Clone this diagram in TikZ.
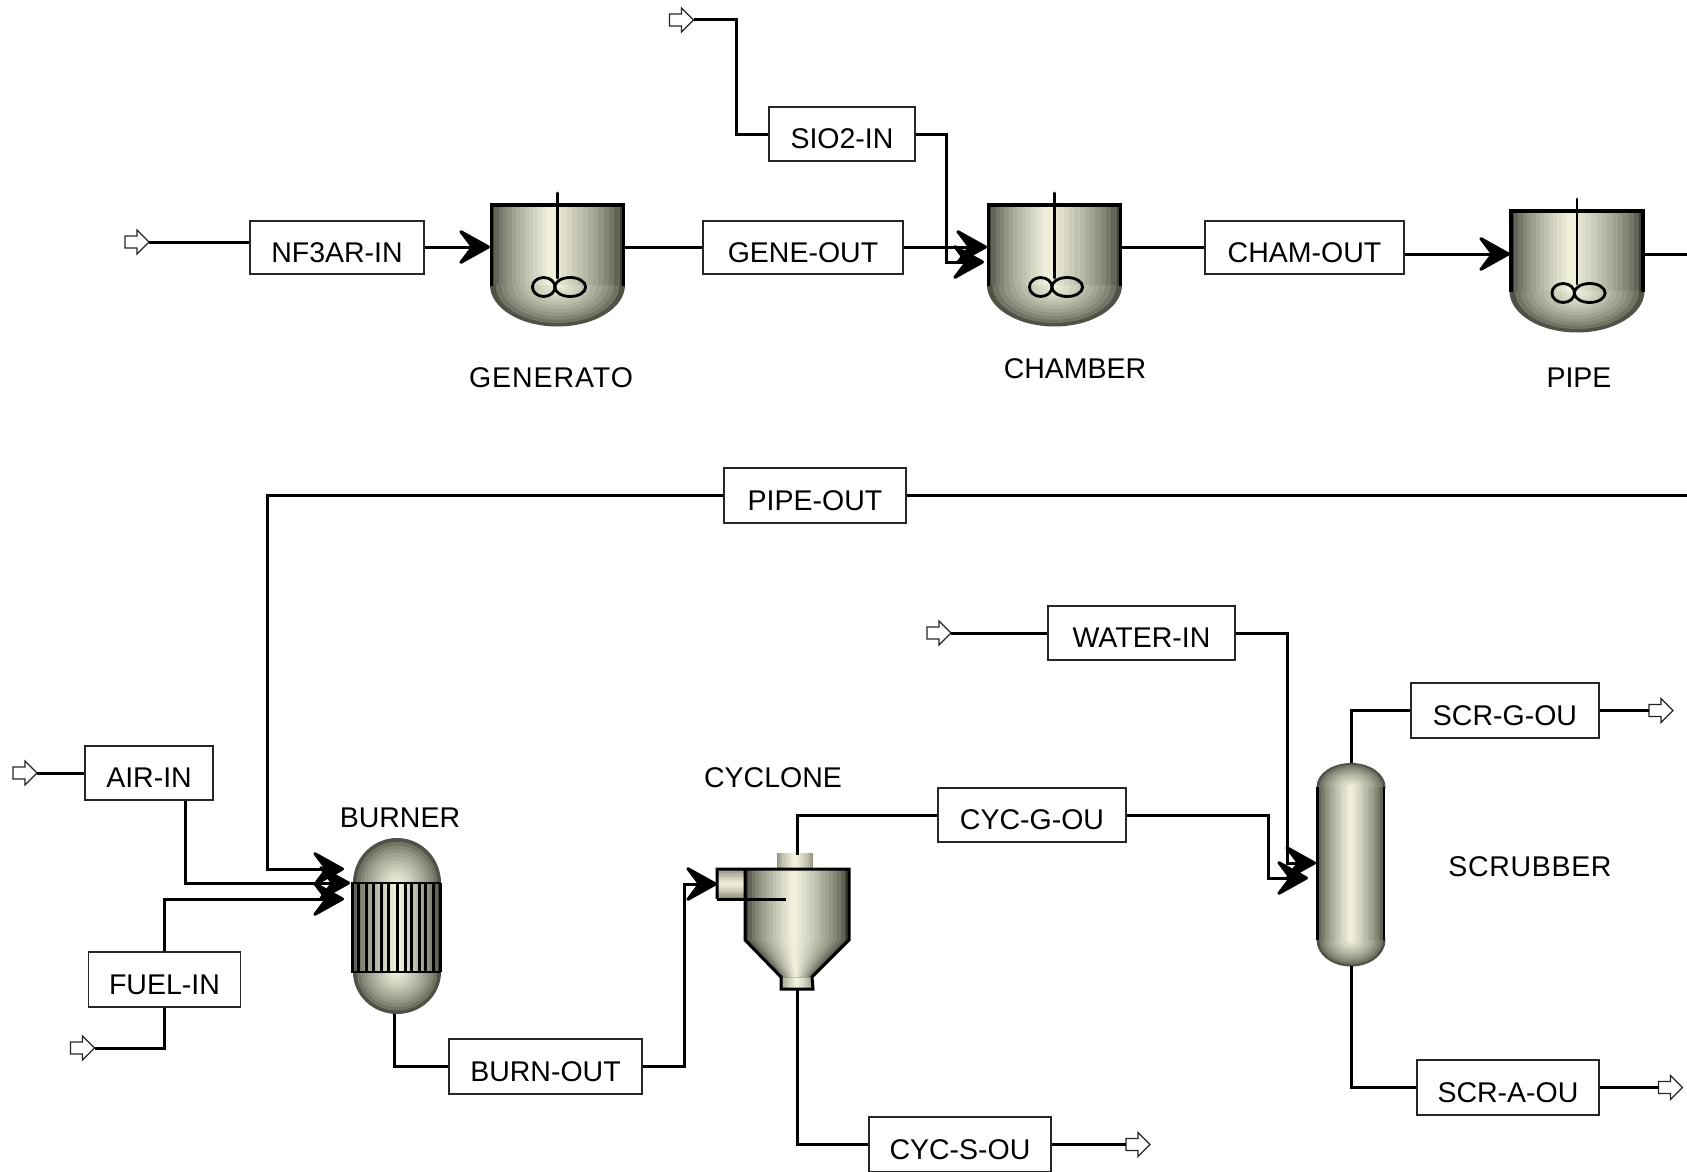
\documentclass[tikz,border=0pt]{standalone}
\usepackage{fontspec}
\setmainfont{Liberation Sans}
\usetikzlibrary{arrows.meta,calc}
\definecolor{lite}{HTML}{F7F7E2}
\definecolor{edgeA}{HTML}{3F4035}
\definecolor{edgeB}{HTML}{8F8F7C}
\colorlet{edgec}{edgeA}
% stepped axial shading; x1t x2t x1b x2b yt yb centre-fraction
\newcommand\bandfill[7]{%
  \foreach \i in {0,...,13}{%
    \pgfmathsetmacro\t{\i/14}%
    \pgfmathsetmacro\p{100*pow(\t,0.62)}%
    \pgfmathsetmacro\ct{#1+(#2-#1)*#7}%
    \pgfmathsetmacro\cb{#3+(#4-#3)*#7}%
    \fill[lite!\p!edgec] ({#1+(\ct-#1)*\t},#5) -- ({#2-(#2-\ct)*\t},#5)
       -- ({#4-(#4-\cb)*\t},#6) -- ({#3+(\cb-#3)*\t},#6) -- cycle;
  }}
% horizontal-banded rectangle; x1 x2 y1 y2
\newcommand\hbandfill[4]{%
  \foreach \i in {0,...,7}{%
    \pgfmathsetmacro\t{\i/8}%
    \pgfmathsetmacro\p{100*pow(\t,0.8)}%
    \pgfmathsetmacro\cy{(#3+#4)/2}%
    \fill[lite!\p!edgeB] (#1,{#3+(\cy-#3)*\t}) rectangle (#2,{#4-(#4-\cy)*\t});
  }}
% concentric elliptical rings; cx cy rx ry, clip y1 y2
\newcommand\ringfill[6]{%
  \begin{scope}
    \clip ({#1-#3-1},#5) rectangle ({#1+#3+1},#6);
    \foreach \i in {0,...,11}{%
      \pgfmathsetmacro\t{\i/12}%
      \pgfmathsetmacro\p{10+90*pow(\t,0.65)}%
      \pgfmathsetmacro\rx{#3*(1-\t)}%
      \pgfmathsetmacro\ry{#4*(1-\t)}%
      \fill[lite!\p!edgec] (#1,#2) ellipse [x radius=\rx pt, y radius=\ry pt];
    }
  \end{scope}}
% stirred tank drawn at the GENERATO position, shifted
\newcommand\tankat[2]{%
  \begin{scope}[shift={(#1,#2)}]
    \ringfill{557.5}{285}{67.5}{41.5}{285}{327}
    \bandfill{490}{625}{490}{625}{205}{285}{0.45}
    \draw[line width=3.4pt,line join=miter] (491.6,286)--(491.6,205)--(623.4,205)--(623.4,286);
    \draw[line width=2.8pt,line cap=round] (557.5,193)--(557.5,278);
    \draw[line width=2.8pt] (543.7,287) ellipse [x radius=11.3pt, y radius=9.5pt];
    \draw[line width=2.8pt] (570.2,287) ellipse [x radius=15.4pt, y radius=9.5pt];
  \end{scope}}
% box text sits a little below the middle of its box
\newcommand\lowtext[1]{\raisebox{-14.5pt}[0pt][0pt]{#1}}
% open stream arrow: name, left x, middle y; gives (name-tail) and (name-tip)
\newcommand\openarrow[3]{%
  \coordinate (#1-tail) at (#2,#3);
  \coordinate (#1-tip) at ({#2+24},#3);
  \draw[openhead] (#1-tail) ++(0,-6) -- ++(12,0) -- ++(0,-6) -- (#1-tip)
     -- ({#2+12},{#3+12}) -- ++(0,-6) -- ({#2},{#3+6}) -- cycle;
}
\tikzset{
  conn/.style={line width=3pt,line join=miter},
  flow/.style={conn,-{Stealth[length=36pt,width=40pt,inset=15pt,round]}},
  lbl/.style={draw=black!85,fill=white,line width=1.1pt,inner sep=0pt,font=\fontsize{28.5}{30}\selectfont},
  blockname/.style={inner sep=0pt,font=\fontsize{28.5}{30}\selectfont},
  openhead/.style={draw=black!85,fill=white,line width=1.2pt,line join=miter},
}
\begin{document}
\begin{tikzpicture}[x=1pt,y=-1pt]
\useasboundingbox (0,0) rectangle (1687,1172);
\fill[white] (0,0) rectangle (1687,1172);
% ---- tanks
\tankat{0}{0}
\tankat{497}{0}
\tankat{1019.5}{6}
% ---- burner
\ringfill{397}{883}{44}{45}{836}{885}
\ringfill{397}{972}{44}{42}{970}{1016}
\bandfill{351}{441}{351}{441}{883}{972}{0.52}
\foreach \x in {352,358,366.7,373.3,381.7,388.3,397.3,405,411.7,419.3,425.5,433.3,440}{
  \draw[line width=3pt] (\x,883)--(\x,972);
}
\draw[line width=2.8pt] (351,883)--(441,883) (351,972)--(441,972);
% ---- cyclone
\hbandfill{717}{746}{869}{899}
\begin{scope}
\colorlet{edgec}{edgeB}
\bandfill{777}{813}{777}{813}{853}{869}{0.5}
\bandfill{781}{813}{781}{813}{977}{989}{0.5}
\end{scope}
\bandfill{745}{849}{745}{849}{869}{940}{0.47}
\bandfill{745}{849}{781}{812}{940}{977}{0.47}
\draw[line width=3pt,line join=miter]
  (717,899)--(717,869)--(849,869)--(849,940)--(812,977)--(813,989)--(781,989)--(781,977)--(745,940)--(745,869);
\draw[line width=3pt] (717,899)--(786,899);
% ---- scrubber
\ringfill{1351}{787}{34.5}{24}{762}{788}
\ringfill{1351}{940}{34.5}{26.5}{939}{968}
\bandfill{1316.5}{1385}{1316.5}{1385}{787}{940}{0.5}
\draw[line width=2.4pt] (1317.4,787)--(1317.4,940) (1384.2,787)--(1384.2,940);
% ---- ports
\coordinate (genIn)   at (490,247);
\coordinate (genOut)  at (625,247);
\coordinate (chaIn)   at (987,247);
\coordinate (chaInB)  at (984,262);
\coordinate (chaOut)  at (1122,247);
\coordinate (pipIn)   at (1510,254);
\coordinate (pipOut)  at (1645,254);
\coordinate (pipEdge) at (1687,254);
\coordinate (outEdge) at (1687,495.5);
\coordinate (burA)    at (344,869);
\coordinate (burB)    at (350,883);
\coordinate (burC)    at (344,899);
\coordinate (burOut)  at (394,1014);
\coordinate (cycIn)   at (717,884);
\coordinate (cycTop)  at (797,855);
\coordinate (cycBot)  at (797,989);
\coordinate (scrA)    at (1316,863);
\coordinate (scrB)    at (1308,878);
\coordinate (scrTop)  at (1351,763);
\coordinate (scrBot)  at (1351,966);
% ---- stream labels
\node[lbl,minimum width=146pt,minimum height=54pt] (sio)  at (842,134)    {\lowtext{SIO2-IN}};
\node[lbl,minimum width=174pt,minimum height=53pt] (nf)   at (337,247.5)  {\lowtext{NF3AR-IN}};
\node[lbl,minimum width=200pt,minimum height=53pt] (gene) at (803,247.5)  {\lowtext{GENE-OUT}};
\node[lbl,minimum width=199pt,minimum height=53pt] (cham) at (1304.5,247.5) {\lowtext{CHAM-OUT}};
\node[lbl,minimum width=182pt,minimum height=55pt] (pout) at (815,495.5)  {\lowtext{PIPE-OUT}};
\node[lbl,minimum width=187pt,minimum height=54pt] (wat)  at (1141.5,633) {\lowtext{WATER-IN}};
\node[lbl,minimum width=188pt,minimum height=55pt] (scg)  at (1505,710.5) {\lowtext{SCR-G-OU}};
\node[lbl,minimum width=128pt,minimum height=54pt] (air)  at (149,773)    {\lowtext{AIR-IN}};
\node[lbl,minimum width=188pt,minimum height=54pt] (cyg)  at (1032,815)   {\lowtext{CYC-G-OU}};
\node[lbl,minimum width=152pt,minimum height=55pt] (fuel) at (164.5,979.5) {\lowtext{FUEL-IN}};
\node[lbl,minimum width=193pt,minimum height=55pt] (burn) at (545.5,1066.5) {\lowtext{BURN-OUT}};
\node[lbl,minimum width=182pt,minimum height=55pt] (sca)  at (1508,1087.5) {\lowtext{SCR-A-OU}};
\node[lbl,minimum width=182pt,minimum height=55pt] (cys)  at (960,1144.5) {\lowtext{CYC-S-OU}};
% ---- block captions
\node[blockname] (cGen) at (551,377.5)  {\addfontfeature{LetterSpace=3.3}GENERATO};
\node[blockname] (cCha) at (1075,368.5) {CHAMBER};
\node[blockname] (cPip) at (1579,377.5) {PIPE};
\node[blockname] (cBur) at (400,818)    {BURNER};
\node[blockname] (cCyc) at (773,778)    {CYCLONE};
\node[blockname] (cScr) at (1530,867)   {\addfontfeature{LetterSpace=2.4}SCRUBBER};
% ---- open stream arrows
\openarrow{fSio}{669.5}{20}
\openarrow{fNf}{125}{242}
\openarrow{fWat}{927}{633}
\openarrow{fAir}{13}{773}
\openarrow{fFue}{70.5}{1048}
\openarrow{pScg}{1649}{710.5}
\openarrow{pSca}{1658.5}{1087.5}
\openarrow{pCys}{1126}{1144.5}
% ---- streams
\draw[conn] (fSio-tip) -| (736,134) -- (sio.west);
\draw[flow] (sio.east) -- (946,134) |- (chaInB);
\draw[conn] (fNf-tip) -- (fNf-tip -| nf.west);
\draw[flow] (nf.east |- genIn) -- (genIn);
\draw[conn] (genOut) -- (genOut -| gene.west);
\draw[flow] (gene.east |- chaIn) -- (chaIn);
\draw[conn] (chaOut) -- (chaOut -| cham.west);
\draw[flow] (cham.east |- pipIn) -- (pipIn);
\draw[conn] (pipOut) -- (pipEdge);
\draw[conn] (outEdge) -- (pout.east);
\draw[flow] (pout.west) -- (267,495.5) |- (burA);
\draw[conn] (fAir-tip) -- (air.west);
\draw[flow] ($(air.south)+(36,0)$) |- (burB);
\draw[conn] (fFue-tip) -| (fuel.south);
\draw[flow] (fuel.north) |- (burC);
\draw[conn] (burOut) |- (burn.west);
\draw[flow] (burn.east) -- (684.5,1066.5) |- (cycIn);
\draw[conn] (cycTop) |- (cyg.west);
\draw[flow] (cyg.east) -- (1268,815) |- (scrB);
\draw[conn] (cycBot) |- (cys.west);
\draw[conn] (cys.east) -- (pCys-tail);
\draw[conn] (fWat-tip) -- (wat.west);
\draw[flow] (wat.east) -- (1287,633) |- (scrA);
\draw[conn] (scrTop) |- (scg.west);
\draw[conn] (scg.east) -- (pScg-tail);
\draw[conn] (scrBot) |- (sca.west);
\draw[conn] (sca.east) -- (pSca-tail);
\end{tikzpicture}
\end{document}
